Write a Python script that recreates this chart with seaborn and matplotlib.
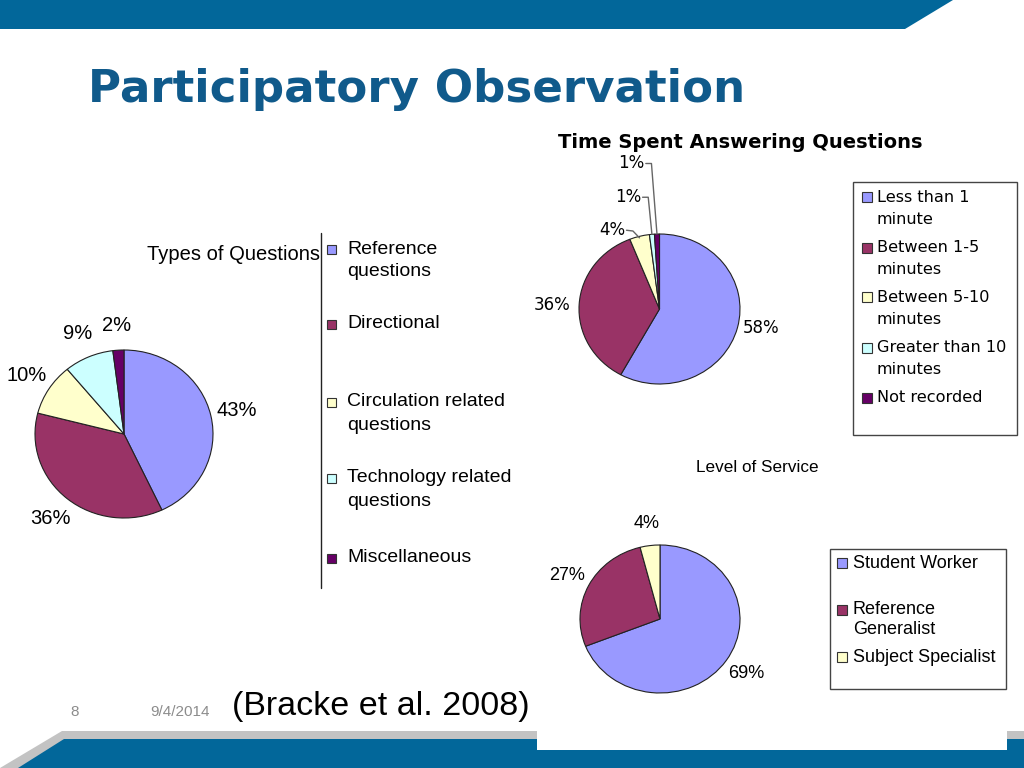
"""
plot.py - slide with three pie charts (Bracke et al. 2008).
"""

import numpy as np
import matplotlib
matplotlib.use("Agg")
import matplotlib.pyplot as plt
from matplotlib.patches import Polygon, Rectangle
import seaborn as sns

sns.set_theme(style="white")
plt.rcParams["font.family"] = ["Liberation Sans", "DejaVu Sans"]
plt.rcParams["text.color"] = "black"

# ---- data ----
slide_title = "Participatory Observation"
citation = "(Bracke et al. 2008)"
page_no = "8"
slide_date = "9/4/2014"

types_title = "Types of Questions"
types_labels = ["Reference\nquestions", "Directional", "Circulation related\nquestions",
                "Technology related\nquestions", "Miscellaneous"]
types_values = [43, 36, 10, 9, 2]

time_title = "Time Spent Answering Questions"
time_labels = ["Less than 1\nminute", "Between 1-5\nminutes", "Between 5-10\nminutes",
               "Greater than 10\nminutes", "Not recorded"]
time_values = [58, 36, 4, 1, 1]

service_title = "Level of Service"
service_labels = ["Student Worker", "Reference\nGeneralist", "Subject Specialist"]
service_values = [69, 27, 4]

palette = sns.color_palette(["#9999ff", "#993366", "#ffffcc", "#ccffff", "#660066"])

W, H = 1024, 768
fig = plt.figure(figsize=(W / 100, H / 100), dpi=100)
fig.patch.set_facecolor("white")

# background axes in pixel coordinates (y down)
bg = fig.add_axes([0, 0, 1, 1])
bg.set_xlim(0, W)
bg.set_ylim(H, 0)
bg.axis("off")

# slide decoration
bg.add_patch(Polygon([(0, 0), (953, 0), (905, 29), (0, 29)], closed=True,
                     facecolor="#02679a", edgecolor="none"))
bg.add_patch(Polygon([(62, 731), (W, 731), (W, H), (0, H)], closed=True,
                     facecolor="#c3c3c3", edgecolor="none"))
bg.add_patch(Polygon([(64, 739), (W, 739), (W, H), (18, H)], closed=True,
                     facecolor="#02679a", edgecolor="none"))
bg.add_patch(Rectangle((537, 447), 470, 303, facecolor="white", edgecolor="none"))

bg.text(88, 102, slide_title, fontsize=32.5, fontweight="bold", color="#105a8b",
        family="DejaVu Sans", va="baseline", ha="left")
bg.text(74.5, 712, page_no, fontsize=11, color="#8c8c8c", ha="center", va="center")
bg.text(180, 712, slide_date, fontsize=11, color="#8c8c8c", ha="center", va="center")
bg.text(232, 707, citation, fontsize=24.5, color="black", ha="left", va="center")


def pie_axes(cx, cy, rx, ry):
    return fig.add_axes([(cx - rx) / W, 1 - (cy + ry) / H, 2 * rx / W, 2 * ry / H])


def draw_pie(ax, values, colors, fontsize, family, labeldistance=1.3):
    wedges, texts = ax.pie(values, colors=colors, startangle=90, counterclock=False,
                           labels=[f"{v}%" for v in values], labeldistance=labeldistance,
                           wedgeprops=dict(edgecolor="#222222", linewidth=0.8),
                           textprops=dict(fontsize=fontsize, family=family, color="black"))
    for t in texts:
        t.set_ha("center")
        t.set_va("center")
    ax.set_xlim(-1, 1)
    ax.set_ylim(-1, 1)
    ax.set_aspect("auto")
    return wedges, texts


def legend_rows(ys, labels, colors, x_sq, x_txt, fontsize, family, sq=9, line_gap=22):
    for y, lab, col in zip(ys, labels, colors):
        bg.add_patch(Rectangle((x_sq, y - sq / 2), sq, sq, facecolor=col,
                               edgecolor="#333333", linewidth=0.8))
        for i, line in enumerate(lab.split("\n")):
            bg.text(x_txt, y + i * line_gap, line, fontsize=fontsize, family=family,
                    ha="left", va="center", color="black")


# ---- left chart: types of questions ----
ax1 = pie_axes(124, 434, 89, 84)
draw_pie(ax1, types_values, palette[:5], 14.5, "Liberation Sans")
bg.text(147, 255, types_title, fontsize=14.5, ha="left", va="center")
bg.plot([321, 321], [233, 588], color="#222222", linewidth=1)
legend_rows([249, 324, 402, 478, 558], types_labels, palette[:5], 327, 347,
            14, "Liberation Sans", line_gap=23)

# ---- top right chart: time spent ----
ax2 = pie_axes(659.5, 309, 80.5, 75)
w2, t2 = draw_pie(ax2, time_values, palette[:5], 12, "DejaVu Sans")
label_pos = [(1.26, -0.25), (-1.33, 0.06), (-0.58, 1.05), (-0.39, 1.49), (-0.35, 1.94)]
for t, (x, y) in zip(t2, label_pos):
    t.set_position((x, y))
# leader lines for the small slices
cum = np.cumsum([0] + time_values[:-1])
mids = np.deg2rad(90 - (cum + np.array(time_values) / 2) * 3.6)
elbow_x = [None, None, -0.33, -0.14, -0.10]
for i in (2, 3, 4):
    ax_, ay_ = np.cos(mids[i]), np.sin(mids[i])
    lx, ly = label_pos[i]
    ex = elbow_x[i]
    if i == 2:
        xs, ys = [lx + 0.17, ex, ax_], [ly, ly - 0.01, ay_ - 0.02]
    else:
        xs, ys = [lx + 0.18, ex, ax_], [ly, ly, ay_]
    ax2.plot(xs, ys, color="#666666", linewidth=1, clip_on=False)
bg.text(558, 143, time_title, fontsize=14, fontweight="bold", family="DejaVu Sans",
        ha="left", va="center")
bg.add_patch(Rectangle((853, 182), 164, 253, facecolor="white", edgecolor="#444444",
                       linewidth=1))
legend_rows([197, 248, 297, 348, 398], time_labels, palette[:5], 862, 877,
            11.6, "DejaVu Sans", sq=10, line_gap=22)

# ---- bottom right chart: level of service ----
ax3 = pie_axes(660, 619, 80, 74)
draw_pie(ax3, service_values, palette[:3], 13, "Liberation Sans")
bg.text(757, 468, service_title, fontsize=12.3, ha="center", va="center")
bg.add_patch(Rectangle((830, 549), 176, 140, facecolor="white", edgecolor="#444444",
                       linewidth=1))
legend_rows([563, 610, 657], service_labels, palette[:3], 837, 853,
            13, "Liberation Sans", sq=10, line_gap=20)

plt.savefig("out.png", dpi=100, facecolor="white")
plt.close()
